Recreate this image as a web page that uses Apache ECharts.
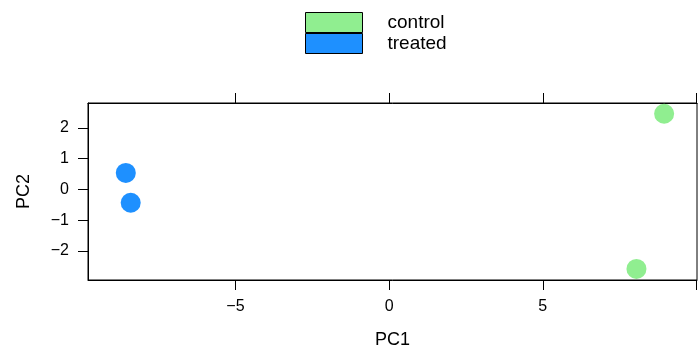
<!DOCTYPE html>
<html><head><meta charset="utf-8">
<script src="https://cdn.jsdelivr.net/npm/echarts@6/dist/echarts.min.js"></script>
<style>html,body{margin:0;padding:0;background:#fff}#c{width:699px;height:349px}</style>
</head><body><div id="c"></div>
<script>
const groups = ['control', 'treated'];
const pc1Control = [8.95, 8.05];
const pc2Control = [2.46, -2.58];
const pc1Treated = [-8.57, -8.41];
const pc2Treated = [0.54, -0.43];
const xTicks = [-5, 0, 5, 10];
const xLabels = [-5, 0, 5];
const yTicks = [-2, -1, 0, 1, 2];
const colors = ['#90EE90', '#1E90FF'];

const FONT = 'Liberation Sans';
const fmt = v => String(v).replace('-', '\u2212');
const chart = echarts.init(document.getElementById('c'));
const xBase = {
  type: 'value', min: -9.8, max: 10.02,
  axisLine: {show: true, onZero: false, lineStyle: {color: '#000', width: 1}},
  splitLine: {show: false},
};
chart.setOption({
  animation: false,
  grid: {left: 88, right: 2, top: 103, bottom: 69, show: true, borderColor: '#000', borderWidth: 1,
         containLabel: false, outerBoundsMode: 'none'},
  legend: {
    data: groups, orient: 'vertical', left: 300, top: 7, itemGap: 0,
    itemWidth: 57, itemHeight: 20, icon: 'rect',
    itemStyle: {borderColor: '#000', borderWidth: 1},
    textStyle: {fontFamily: FONT, fontSize: 19, color: '#000', lineHeight: 20, padding: [0, 0, 0, 20]},
    selectedMode: false
  },
  xAxis: [
    Object.assign({}, xBase, {
      position: 'bottom', name: 'PC1', nameLocation: 'middle', nameGap: 51,
      nameTextStyle: {fontFamily: FONT, fontSize: 18, color: '#000'},
      axisTick: {show: true, inside: false, length: 10, customValues: xTicks, lineStyle: {color: '#000'}},
      axisLabel: {show: true, margin: 19, customValues: xLabels, formatter: fmt, fontFamily: FONT, fontSize: 16, color: '#000'}
    }),
    Object.assign({}, xBase, {
      position: 'top',
      axisTick: {show: true, inside: false, length: 10, customValues: xTicks, lineStyle: {color: '#000'}},
      axisLabel: {show: false}
    })
  ],
  yAxis: [{
    type: 'value', min: -2.94, max: 2.81, position: 'left',
    name: 'PC2', nameLocation: 'middle', nameGap: 55, nameRotate: 90,
    nameTextStyle: {fontFamily: FONT, fontSize: 18, color: '#000'},
    axisLine: {show: true, onZero: false, lineStyle: {color: '#000', width: 1}},
    axisTick: {show: true, inside: false, length: 10, customValues: yTicks, lineStyle: {color: '#000'}},
    axisLabel: {show: true, margin: 19, customValues: yTicks, formatter: fmt, fontFamily: FONT, fontSize: 16, color: '#000'},
    splitLine: {show: false}
  }],
  series: [
    {name: groups[0], type: 'scatter', symbolSize: 20, itemStyle: {color: colors[0], opacity: 1},
     data: pc1Control.map((x, i) => [x, pc2Control[i]])},
    {name: groups[1], type: 'scatter', symbolSize: 20, itemStyle: {color: colors[1], opacity: 1},
     data: pc1Treated.map((x, i) => [x, pc2Treated[i]])}
  ]
});
</script></body></html>
